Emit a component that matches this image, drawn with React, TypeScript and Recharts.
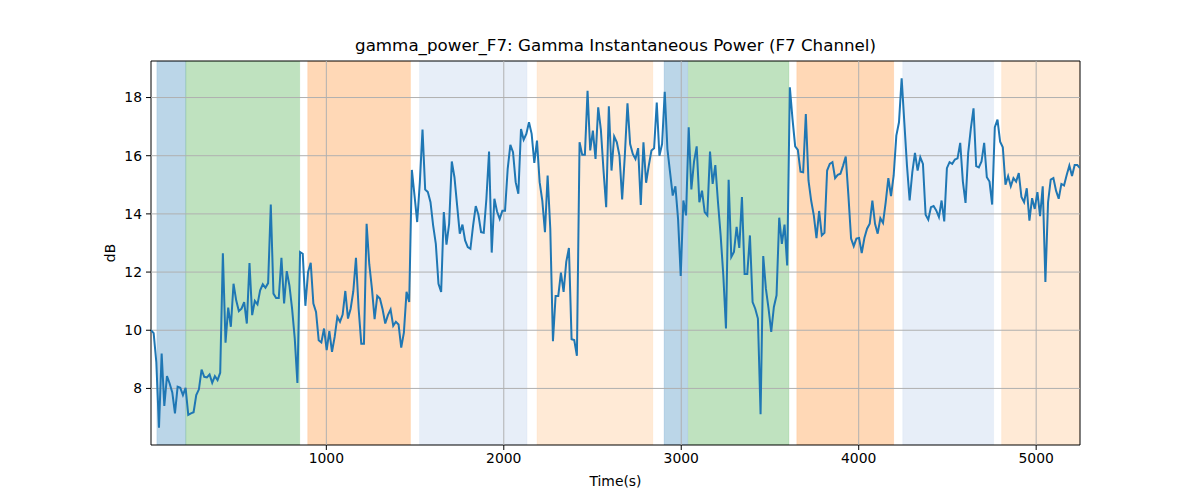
import React from 'react';
import {
  LineChart,
  Line,
  XAxis,
  YAxis,
  ReferenceArea,
  ReferenceLine,
} from 'recharts';

// sampling clock of the power estimate (s)
const T0 = 12;
const DT = 15;

const gammaDb = [
  10.0, 9.9, 8.9, 6.65, 9.2, 7.4, 8.42, 8.17, 7.86, 7.14,
  8.06, 8.02, 7.77, 8.02, 7.09, 7.14, 7.18, 7.77, 7.97, 8.65,
  8.4, 8.38, 8.48, 8.19, 8.42, 8.29, 8.54, 12.65, 9.57, 10.78,
  10.12, 11.6, 11.03, 10.66, 10.74, 10.97, 10.23, 12.31, 10.52, 11.01,
  10.89, 11.37, 11.58, 11.46, 11.62, 14.32, 11.26, 11.11, 11.11, 12.49,
  10.92, 12.03, 11.54, 10.74, 9.72, 8.19, 12.69, 12.63, 10.84, 12.0,
  12.32, 10.92, 10.63, 9.66, 9.58, 10.06, 9.32, 9.97, 9.26, 9.77,
  10.46, 10.29, 10.54, 11.35, 10.4, 10.74, 11.34, 12.49, 10.74, 9.54,
  9.54, 13.66, 12.27, 11.43, 10.38, 11.18, 11.09, 10.72, 10.23, 10.52,
  10.71, 10.15, 10.29, 10.2, 9.4, 9.92, 11.32, 10.97, 15.51, 14.63,
  13.72, 15.09, 16.9, 14.84, 14.75, 14.4, 13.6, 12.97, 11.6, 11.32,
  14.06, 12.94, 13.66, 15.8, 15.26, 14.29, 13.32, 13.63, 13.09, 12.86,
  12.8, 13.6, 14.27, 13.97, 13.37, 13.35, 14.52, 16.14, 12.67, 14.52,
  14.08, 13.83, 14.11, 14.11, 15.55, 16.37, 16.12, 15.09, 14.69, 16.92,
  16.55, 16.75, 17.15, 16.75, 15.75, 16.52, 15.09, 14.46, 13.37, 15.32,
  13.49, 9.62, 11.18, 11.18, 11.98, 11.32, 12.35, 12.83, 9.69, 9.66,
  9.12, 16.46, 16.03, 16.03, 18.23, 16.18, 16.86, 15.89, 17.66, 16.9,
  15.49, 14.23, 17.7, 15.49, 16.66, 16.46, 16.0, 14.5, 16.0, 17.8,
  16.4, 16.06, 15.89, 16.26, 14.31, 16.46, 15.07, 15.66, 16.18, 16.26,
  17.83, 16.0, 16.4, 18.2, 16.23, 15.43, 14.63, 14.95, 13.83, 11.87,
  14.46, 13.95, 16.98, 14.84, 15.8, 16.32, 14.4, 14.8, 14.06, 13.95,
  16.14, 15.03, 15.68, 14.4, 13.26, 11.89, 10.06, 15.17, 12.52, 12.69,
  13.55, 12.83, 14.58, 11.93, 11.93, 13.26, 10.97, 10.74, 10.4, 7.11,
  12.55, 11.43, 10.74, 9.94, 10.8, 11.2, 13.87, 12.97, 13.63, 12.23,
  18.35, 17.26, 16.32, 16.2, 15.45, 15.43, 17.43, 15.15, 14.46, 13.95,
  13.17, 14.1, 13.26, 13.35, 15.49, 15.72, 15.78, 15.23, 15.34, 15.38,
  15.66, 15.97, 14.63, 13.15, 12.89, 13.15, 13.17, 12.65, 13.17, 13.49,
  13.66, 14.46, 13.66, 13.32, 13.85, 13.69, 14.4, 15.23, 14.61, 15.32,
  16.69, 17.15, 18.66, 17.15, 15.66, 14.46, 15.43, 16.1, 15.49, 15.95,
  15.72, 13.97, 13.8, 14.23, 14.27, 14.12, 13.89, 14.46, 13.74, 15.57,
  15.78, 15.72, 15.87, 15.91, 16.44, 15.11, 14.38, 16.1, 16.94, 17.63,
  15.64, 15.6, 15.8, 16.44, 15.26, 15.11, 14.32, 16.98, 17.24, 16.48,
  16.29, 15.0, 15.3, 14.95, 15.23, 15.11, 15.4, 14.58, 14.4, 14.88,
  13.77, 14.54, 14.17, 14.75, 13.92, 14.95, 11.66, 14.4, 15.18, 15.23,
  14.8, 14.52, 15.03, 14.98, 15.34, 15.66, 15.3, 15.68, 15.68, 15.57,
];

// shaded stage windows: start, end (s)
const bandStart = [45, 208, 895, 1525, 2187, 2903, 3040, 3651, 4248, 4805];
const bandEnd = [208, 850, 1474, 2131, 2840, 3037, 3607, 4197, 4760, 5247];
const bandColor = [
  '#1f77b4', '#2ca02c', '#ff7f0e', '#aec7e8', '#ffbb78',
  '#1f77b4', '#2ca02c', '#ff7f0e', '#aec7e8', '#ffbb78',
];

const xTicks = [1000, 2000, 3000, 4000, 5000];
const yTicks = [8, 10, 12, 14, 16, 18];

const X_DOMAIN: [number, number] = [12, 5247];
const Y_DOMAIN: [number, number] = [6.055, 19.256];

const FONT = '"DejaVu Sans", sans-serif';
const GRID = '#b0b0b0';

const rows = gammaDb.map((v, i) => ({ t: T0 + i * DT, v }));

export default function App() {
  return (
    <div
      style={{
        position: 'fixed',
        left: 0,
        top: 0,
        width: 1200,
        height: 500,
        background: '#fff',
        fontFamily: FONT,
      }}
    >
      <div
        style={{
          position: 'absolute',
          left: 151,
          width: 929,
          top: 34,
          textAlign: 'center',
          fontSize: 16.7,
          color: '#000',
          lineHeight: '22px',
        }}
      >
        gamma_power_F7: Gamma Instantaneous Power (F7 Channel)
      </div>
      <div
        style={{
          position: 'absolute',
          left: 151,
          width: 929,
          top: 471,
          textAlign: 'center',
          fontSize: 13.9,
          lineHeight: '20px',
          color: '#000',
        }}
      >
        Time(s)
      </div>
      <div
        style={{
          position: 'absolute',
          left: 110,
          top: 253,
          transform: 'translate(-50%, -50%) rotate(-90deg)',
          fontSize: 13.9,
          lineHeight: '20px',
          color: '#000',
        }}
      >
        dB
      </div>
      <LineChart
        width={1200}
        height={500}
        data={rows}
        margin={{ top: 61, right: 120, bottom: 0, left: 0 }}
      >
        <XAxis
          dataKey="t"
          type="number"
          domain={X_DOMAIN}
          allowDataOverflow
          ticks={xTicks}
          height={55}
          tickSize={5}
          tickMargin={3}
          axisLine={false}
          stroke="#000"
          tick={{ fontSize: 13.9, fill: '#000', fontFamily: FONT }}
        />
        <YAxis
          type="number"
          domain={Y_DOMAIN}
          allowDataOverflow
          ticks={yTicks}
          width={151}
          tickSize={5}
          tickMargin={4}
          axisLine={false}
          stroke="#000"
          tick={{ fontSize: 13.9, fill: '#000', fontFamily: FONT }}
        />
        {bandStart.map((s, i) => (
          <ReferenceArea
            key={`band-${i}`}
            x1={s}
            x2={bandEnd[i]}
            y1={Y_DOMAIN[0]}
            y2={Y_DOMAIN[1]}
            fill={bandColor[i]}
            fillOpacity={0.3}
            stroke={bandColor[i]}
            strokeOpacity={0.12}
            ifOverflow="hidden"
          />
        ))}
        {xTicks.map((x) => (
          <ReferenceLine key={`gx-${x}`} x={x} stroke={GRID} strokeWidth={1} />
        ))}
        {yTicks.map((y) => (
          <ReferenceLine key={`gy-${y}`} y={y} stroke={GRID} strokeWidth={1} />
        ))}
        <Line
          dataKey="v"
          stroke="#1f77b4"
          strokeWidth={2}
          dot={false}
          activeDot={false}
          isAnimationActive={false}
        />
        <ReferenceArea
          x1={X_DOMAIN[0]}
          x2={X_DOMAIN[1]}
          y1={Y_DOMAIN[0]}
          y2={Y_DOMAIN[1]}
          fill="none"
          stroke="#000"
          strokeWidth={1}
        />
      </LineChart>
    </div>
  );
}
